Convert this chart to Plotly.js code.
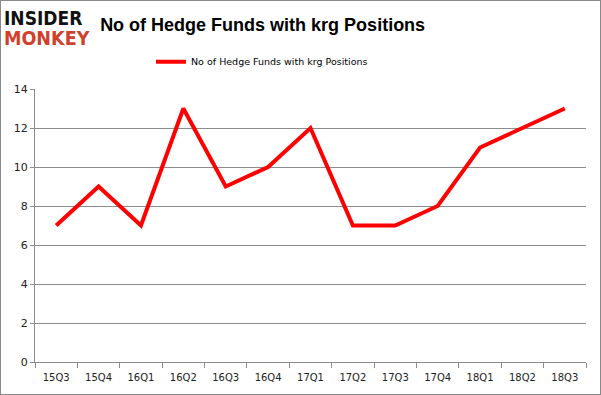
<!DOCTYPE html>
<html><head><meta charset="utf-8">
<script src="https://cdn.plot.ly/plotly-3.0.1.min.js"></script>
<style>
html,body{margin:0;padding:0;background:#fff;}
#wrap{position:relative;width:601px;height:395px;}
#chart{position:absolute;left:0;top:0;width:601px;height:395px;}
#border{position:absolute;left:0;top:0;width:601px;height:395px;box-sizing:border-box;border:1px solid #898989;pointer-events:none;}
</style></head>
<body>
<div id="wrap"><div id="chart"></div><div id="border"></div></div>
<script>
const quarters = ["15Q3","15Q4","16Q1","16Q2","16Q3","16Q4","17Q1","17Q2","17Q3","17Q4","18Q1","18Q2","18Q3"];
const hedgeFunds = [7,9,7,13,9,10,12,7,7,8,11,12,13];
const seriesName = "No of Hedge Funds with krg Positions";
const titleText = "No of Hedge Funds with krg Positions";
const yTicks = [0,2,4,6,8,10,12,14];

const trace = {
  x: quarters, y: hedgeFunds, type: "scatter", mode: "lines", name: seriesName,
  line: {color: "#ff0000", width: 4}
};
const layout = {
  width: 601, height: 395,
  margin: {l: 35, r: 15, t: 89, b: 33},
  paper_bgcolor: "#fff", plot_bgcolor: "#fff",
  font: {family: "DejaVu Sans, Verdana, sans-serif", size: 11, color: "#222"},
  title: {text: "<b>" + titleText + "</b>", x: 0.437, xanchor: "center", y: 0.937, yanchor: "middle",
          font: {family: "Liberation Sans, Arial, sans-serif", size: 18, color: "#000"}},
  showlegend: true,
  legend: {orientation: "h", x: 0.412, xanchor: "center", y: 1.1, yanchor: "middle",
           font: {family: "DejaVu Sans, Verdana, sans-serif", size: 9.5, color: "#000"}},
  xaxis: {type: "category", range: [-0.5, 12.5], showgrid: false, showline: true, linecolor: "#8c8c8c", linewidth: 1,
          ticks: "outside", tickson: "boundaries", ticklen: 5, tickcolor: "#8c8c8c", ticklabelstandoff: 6,
          tickfont: {size: 10, color: "#222"}, fixedrange: true},
  yaxis: {range: [0, 14], tickvals: yTicks, showgrid: true, gridcolor: "#8c8c8c", gridwidth: 1,
          showline: true, linecolor: "#8c8c8c", ticks: "outside", ticklen: 4, tickcolor: "#8c8c8c",
          zeroline: false, tickfont: {size: 11, color: "#222"}, fixedrange: true},
  annotations: [
    {text: "<b>INSIDER</b>", xref: "paper", yref: "paper", x: -33/551, xanchor: "left", y: 1 + (89-18)/273, yanchor: "middle",
     showarrow: false, font: {family: "DejaVu Sans Condensed, DejaVu Sans, sans-serif", size: 19, color: "#111"}},
    {text: "<b>MONKEY</b>", xref: "paper", yref: "paper", x: -33/551, xanchor: "left", y: 1 + (89-39)/273, yanchor: "middle",
     showarrow: false, font: {family: "DejaVu Sans Condensed, DejaVu Sans, sans-serif", size: 19.5, color: "#d0402b"}}
  ]
};
Plotly.newPlot("chart", [trace], layout, {displayModeBar: false, staticPlot: true});
</script>
</body></html>
